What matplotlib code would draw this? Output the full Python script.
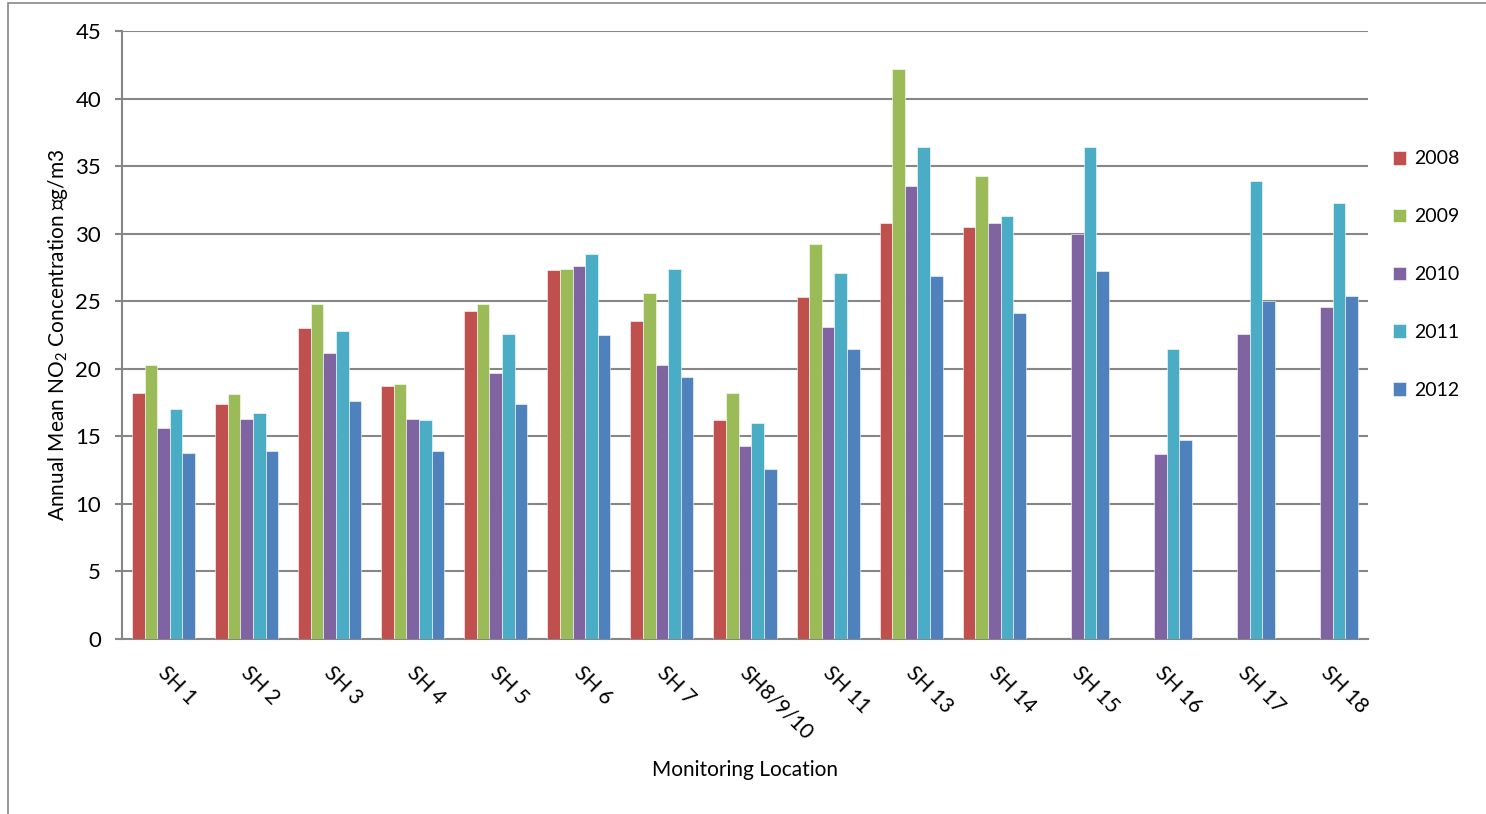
import matplotlib.pyplot as plt
import matplotlib.transforms as mtransforms
import numpy as np
from matplotlib.patches import Rectangle

plt.rcParams['font.family'] = ['Lato', 'DejaVu Sans']

# Annual mean NO2 by monitoring location (nan = not monitored that year)
locations = ['SH 1', 'SH 2', 'SH 3', 'SH 4', 'SH 5', 'SH 6', 'SH 7', 'SH8/9/10',
             'SH 11', 'SH 13', 'SH 14', 'SH 15', 'SH 16', 'SH 17', 'SH 18']
years = ['2008', '2009', '2010', '2011', '2012']
nan = np.nan
no2_2008 = [18.2, 17.4, 23.0, 18.7, 24.3, 27.3, 23.5, 16.2, 25.3, 30.8, 30.5, nan, nan, nan, nan]
no2_2009 = [20.3, 18.1, 24.8, 18.9, 24.8, 27.4, 25.6, 18.2, 29.2, 42.2, 34.3, nan, nan, nan, nan]
no2_2010 = [15.6, 16.3, 21.2, 16.3, 19.7, 27.6, 20.3, 14.3, 23.1, 33.5, 30.8, 30.0, 13.7, 22.6, 24.6]
no2_2011 = [17.0, 16.7, 22.8, 16.2, 22.6, 28.5, 27.4, 16.0, 27.1, 36.4, 31.3, 36.4, 21.5, 33.9, 32.3]
no2_2012 = [13.8, 13.9, 17.6, 13.9, 17.4, 22.5, 19.4, 12.6, 21.5, 26.9, 24.1, 27.2, 14.7, 25.0, 25.4]
series = [no2_2008, no2_2009, no2_2010, no2_2011, no2_2012]
colors = ['#C0504D', '#9BBB59', '#8064A2', '#4BACC6', '#4F81BD']

fig = plt.figure(figsize=(14.86, 8.14), dpi=100)
ax = fig.add_axes([122 / 1486, 1 - 639 / 814, (1368 - 122) / 1486, (639 - 31) / 814])

x = np.arange(len(locations))
w = 0.152
for i, (vals, c, yr) in enumerate(zip(series, colors, years)):
    ax.bar(x + (i - 2) * w, vals, width=w, color=c, label=yr,
           edgecolor='white', linewidth=0.4, zorder=3)

ax.set_xlim(-0.5, len(locations) - 0.5)
ax.set_ylim(0, 45)
ax.set_yticks(np.arange(0, 46, 5))
ax.grid(axis='y', color='#868686', linewidth=1.5, zorder=0)

for s in ['top', 'right']:
    ax.spines[s].set_visible(False)
for s in ['left', 'bottom']:
    ax.spines[s].set_color('#868686')
    ax.spines[s].set_linewidth(1.5)

ax.tick_params(axis='y', length=5, width=1.5, color='#868686', labelsize=16, pad=10)
ax.tick_params(axis='x', length=0, pad=17)
ax.set_xticks(x)
ax.set_xticklabels(locations, rotation=-45, ha='left', va='top',
                   rotation_mode='anchor', fontsize=15)
# nudge the slanted labels a little to the right
shift = mtransforms.ScaledTranslation(5 / 100, 0, fig.dpi_scale_trans)
for lbl in ax.get_xticklabels():
    lbl.set_transform(lbl.get_transform() + shift)

ax.set_ylabel('Annual Mean NO$\\mathregular{_2}$ Concentration \u2370g/m3', fontsize=15,
              labelpad=4, family=['Lato', 'DejaVu Sans', 'DejaVu Sans Mono'])
ax.set_xlabel('Monitoring Location', fontsize=15, labelpad=12)

ax.legend(loc='upper left', bbox_to_anchor=(1375 / 1486, 1 - 133 / 814),
          bbox_transform=fig.transFigure, frameon=False, fontsize=14,
          handlelength=0.7, handleheight=0.7, handletextpad=0.4, labelspacing=2.1)

# outer chart frame
fig.add_artist(Rectangle((8 / 1486, -0.2), 1.2, 1.2 - 3 / 814, transform=fig.transFigure,
                         fill=False, edgecolor='#888888', linewidth=1.2))

fig.savefig('out.png', dpi=100)
